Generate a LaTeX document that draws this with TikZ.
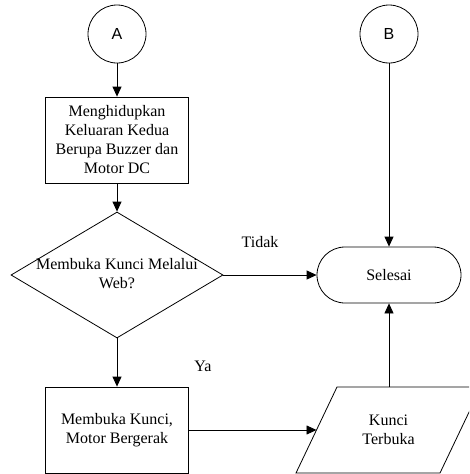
\documentclass[tikz,border=0pt]{standalone}
\usepackage{fontspec}
\setmainfont{Liberation Serif}
\newfontfamily\connfont{Liberation Sans}
\usetikzlibrary{arrows.meta,shapes.geometric,calc}

\tikzset{
  txt/.style={font=\fontsize{16}{19}\selectfont, align=center, inner sep=0pt},
  flow/.style={draw, line width=0.8pt, -{Triangle[length=10pt,width=9pt]}},
  outline/.style={draw, line width=0.8pt},
  connector/.style={outline, circle, minimum size=58pt, inner sep=0pt,
    font=\connfont\fontsize{16}{19}\selectfont},
  procbox/.style={outline, txt, minimum width=143pt, minimum height=86pt},
  terminal/.style={outline, txt, rectangle, rounded corners=28pt,
    minimum width=144pt, minimum height=56pt},
  decision/.style={outline, diamond, inner sep=0pt,
    minimum width=212pt, minimum height=126pt},
}

\begin{document}
\begin{tikzpicture}[x=1pt,y=-1pt]
\useasboundingbox (0,0) rectangle (469,474);
\clip (0,0) rectangle (469,474);

% off-page connectors
\node[connector] (A) at (117,34) {A};
\node[connector] (B) at (389,34) {B};

% left column
\node[procbox] (hidup) at (117,140)
  {Menghidupkan\\Keluaran Kedua\\Berupa Buzzer dan\\Motor DC};
\node[decision] (web) at (117,275) {};
\node[txt] (webtext) at (117,274) {Membuka Kunci Melalui\\Web?};
\node[procbox] (buka) at (117,430) {Membuka Kunci,\\Motor Bergerak};

% right column
\node[terminal] (selesai) at (389,275) {Selesai};

% input/output parallelogram
\coordinate (pbl) at (296,473);
\coordinate (pbr) at (440,473);
\coordinate (ptr) at (481,387);
\coordinate (ptl) at (337,387);
\draw[outline] (pbl) -- (pbr) -- (ptr) -- (ptl) -- cycle;
\node[txt] (kunci) at (388.5,430) {Kunci\\Terbuka};
\coordinate (pin) at ($(pbl)!0.5!(ptl)$);
\coordinate (ptop) at (389,387);

% connectors
\draw[flow] (A) -- (hidup);
\draw[flow] (hidup) -- (web);
\draw[flow] (web) -- (buka);
\draw[flow] (web) -- (selesai);
\draw[flow] (B) -- (selesai);
\draw[flow] (buka.east) -- (pin);
\draw[flow] (ptop) -- (selesai.south);

% branch labels
\node[txt] (tidak) at (260,242) {Tidak};
\node[txt] (ya) at (203,366) {Ya};
\end{tikzpicture}
\end{document}
